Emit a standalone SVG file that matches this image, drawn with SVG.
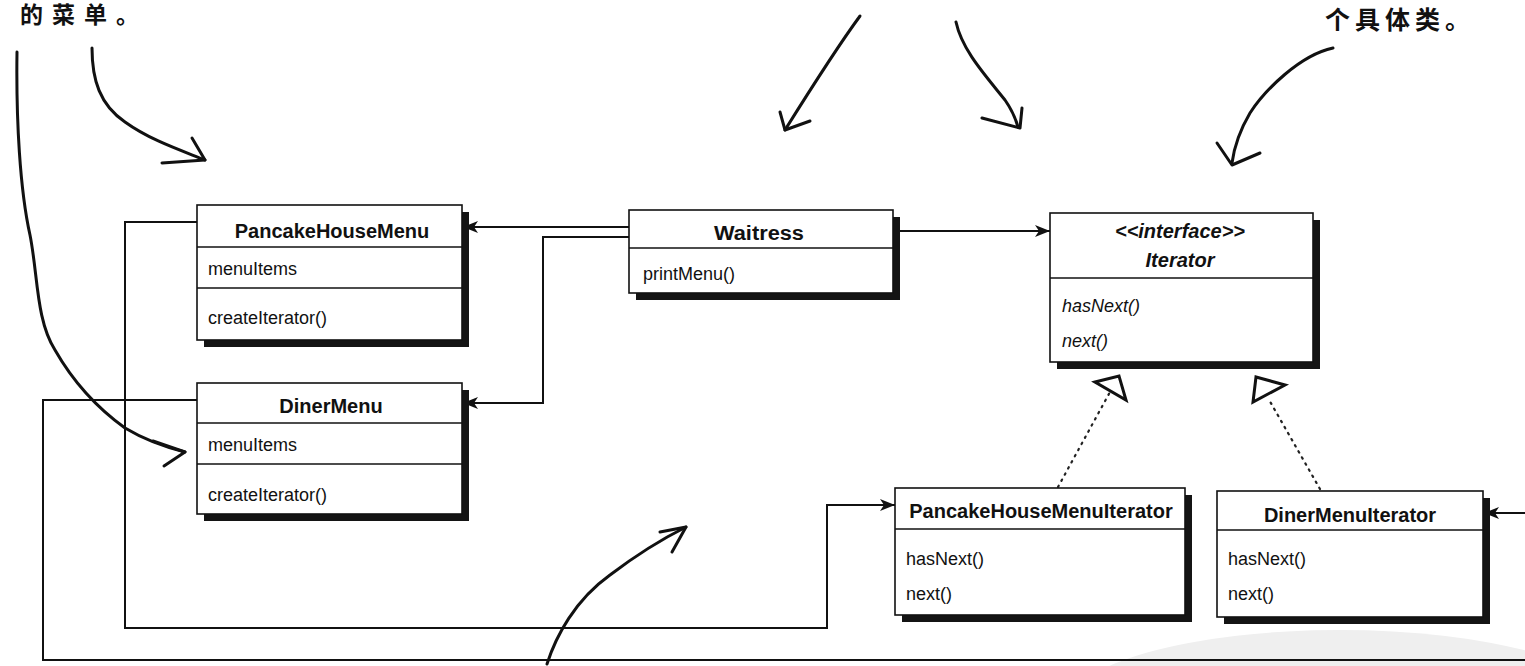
<svg xmlns="http://www.w3.org/2000/svg" width="1525" height="666" viewBox="0 0 1525 666">
<style>
.box{fill:#fff;stroke:#111;stroke-width:1.6}
.shadow{fill:#141414}
.div{stroke:#111;stroke-width:1.6}
.title{font-family:"Liberation Sans",Arial,sans-serif;font-weight:bold;font-size:20px;fill:#111;text-anchor:middle}
.mem{font-family:"Liberation Sans",Arial,sans-serif;font-size:18px;fill:#111}
.it{font-style:italic}
.conn{fill:none;stroke:#111;stroke-width:2}
.dot{fill:none;stroke:#222;stroke-width:2.2;stroke-dasharray:1.5 5.5;stroke-linecap:round}
.tri{fill:#fff;stroke:#111;stroke-width:3;stroke-linejoin:miter}
.hand{fill:none;stroke:#111;stroke-width:3;stroke-linecap:round;stroke-linejoin:round}
.cjk{font-family:"Liberation Sans","Noto Sans CJK SC",sans-serif;font-weight:bold;fill:#111}
</style>
<defs>
<marker id="ah" markerWidth="16" markerHeight="12" refX="15" refY="6" orient="auto" markerUnits="userSpaceOnUse">
<path d="M0,0 L15,6 L0,12 L4,6 Z" fill="#111"/>
</marker>
</defs>
<rect width="1525" height="666" fill="#fff"/>
<ellipse cx="1340" cy="705" rx="270" ry="75" fill="#efefef"/>

<g id="annotations">
<text class="cjk" x="20" y="23" font-size="23" letter-spacing="9">的菜单。</text>
<text class="cjk" x="1325" y="29" font-size="25" letter-spacing="5">个具体类。</text>
<path class="hand" d="M17,52 C16,120 20,190 30,235 C38,275 36,320 55,350 C75,385 100,410 125,428 C145,440 165,447 185,452"/>
<path class="hand" d="M153,441 L185,452 L164,466"/>
<path class="hand" d="M92,48 C92,80 100,105 125,122 C150,140 180,150 205,160"/>
<path class="hand" d="M192,138 L205,160 L162,163"/>
<path class="hand" d="M860,16 C835,50 810,90 785,130"/>
<path class="hand" d="M780,112 L785,130 L810,121"/>
<path class="hand" d="M956,22 C962,50 985,75 1005,100 C1012,110 1016,120 1018,127"/>
<path class="hand" d="M982,118 L1020,128 L1022,108"/>
<path class="hand" d="M1333,48 C1300,55 1265,90 1250,113 C1240,130 1234,148 1232,163"/>
<path class="hand" d="M1217,143 L1232,165 L1260,153"/>
<path class="hand" d="M547,664 C556,636 575,600 610,575 C635,556 660,540 686,527"/>
<path class="hand" d="M660,532 L686,527 L672,552"/>
</g>

<g id="connectors">
<path class="conn" d="M629,227 L463,227" marker-end="url(#ah)"/>
<path class="conn" d="M629,237 L543,237 L543,403 L463,403" marker-end="url(#ah)"/>
<path class="conn" d="M893,231 L1050,231" marker-end="url(#ah)"/>
<path class="conn" d="M197,222 L125,222 L125,628 L827,628 L827,505 L895,505" marker-end="url(#ah)"/>
<path class="conn" d="M197,400 L43,400 L43,660 L1535,660 L1535,513 L1484,513" marker-end="url(#ah)"/>
<path class="dot" d="M1058,487 L1110,392"/>
<path class="dot" d="M1320,489 L1268,398"/>
<polygon class="tri" points="1095,382 1119,376 1126,400"/>
<polygon class="tri" points="1256,377 1285,385 1253,402"/>
</g>

<g id="PancakeHouseMenu">
<rect class="shadow" x="204" y="212" width="265" height="135"/>
<rect class="box" x="197" y="205" width="265" height="135"/>
<line class="div" x1="197" y1="247" x2="462" y2="247"/>
<line class="div" x1="197" y1="288" x2="462" y2="288"/>
<text class="title" x="332" y="238">PancakeHouseMenu</text>
<text class="mem" x="208" y="275">menuItems</text>
<text class="mem" x="208" y="324">createIterator()</text>
</g>

<g id="Waitress">
<rect class="shadow" x="636" y="217" width="264" height="83"/>
<rect class="box" x="629" y="210" width="264" height="83"/>
<line class="div" x1="629" y1="248" x2="893" y2="248"/>
<text class="title" x="759" y="240" textLength="90" lengthAdjust="spacingAndGlyphs">Waitress</text>
<text class="mem" x="643" y="280">printMenu()</text>
</g>

<g id="Iterator">
<rect class="shadow" x="1057" y="220" width="263" height="149"/>
<rect class="box" x="1050" y="213" width="263" height="149"/>
<line class="div" x1="1050" y1="278" x2="1313" y2="278"/>
<text class="title it" x="1180" y="238">&lt;&lt;interface&gt;&gt;</text>
<text class="title it" x="1180" y="267">Iterator</text>
<text class="mem it" x="1062" y="312">hasNext()</text>
<text class="mem it" x="1062" y="347">next()</text>
</g>

<g id="DinerMenu">
<rect class="shadow" x="204" y="390" width="265" height="131"/>
<rect class="box" x="197" y="383" width="265" height="131"/>
<line class="div" x1="197" y1="423" x2="462" y2="423"/>
<line class="div" x1="197" y1="464" x2="462" y2="464"/>
<text class="title" x="331" y="413">DinerMenu</text>
<text class="mem" x="208" y="451">menuItems</text>
<text class="mem" x="208" y="501">createIterator()</text>
</g>

<g id="PancakeHouseMenuIterator">
<rect class="shadow" x="902" y="495" width="290" height="127"/>
<rect class="box" x="895" y="488" width="290" height="127"/>
<line class="div" x1="895" y1="529" x2="1185" y2="529"/>
<text class="title" x="1041" y="518">PancakeHouseMenuIterator</text>
<text class="mem" x="906" y="565">hasNext()</text>
<text class="mem" x="906" y="600">next()</text>
</g>

<g id="DinerMenuIterator">
<rect class="shadow" x="1224" y="498" width="266" height="126"/>
<rect class="box" x="1217" y="491" width="266" height="126"/>
<line class="div" x1="1217" y1="530" x2="1483" y2="530"/>
<text class="title" x="1350" y="522">DinerMenuIterator</text>
<text class="mem" x="1228" y="565">hasNext()</text>
<text class="mem" x="1228" y="600">next()</text>
</g>
</svg>
